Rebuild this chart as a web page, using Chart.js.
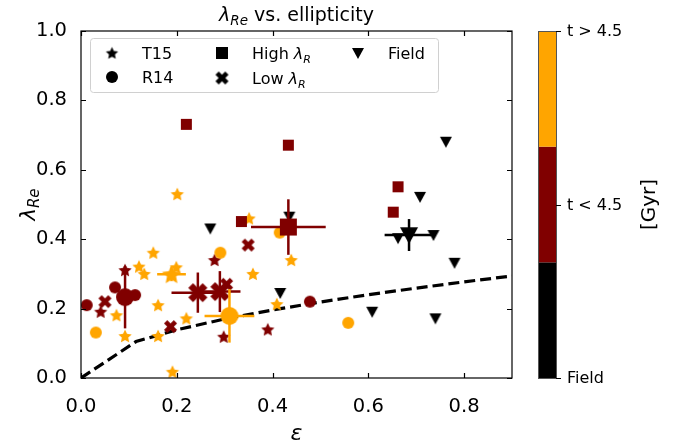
<!DOCTYPE html>
<html lang="en">
<head>
<meta charset="UTF-8">
<title>lambda_Re vs. ellipticity</title>
<script src="https://cdn.jsdelivr.net/npm/chart.js@4.4.1/dist/chart.umd.min.js"></script>
<style>
  html, body { margin: 0; padding: 0; background: #fff; }
</style>
</head>
<body>
<canvas id="myChart" width="679" height="447"></canvas>
<script>
// ---- data ----
// T15 galaxies (stars)
const t15OldX = [0.201, 0.151, 0.121, 0.132, 0.199, 0.161, 0.074, 0.092, 0.161, 0.191, 0.220, 0.359, 0.351, 0.439, 0.409];
const t15OldY = [0.530, 0.361, 0.321, 0.300, 0.319, 0.210, 0.181, 0.121, 0.121, 0.018, 0.172, 0.300, 0.460, 0.340, 0.213];
const t15YoungX = [0.092, 0.041, 0.279, 0.298, 0.390];
const t15YoungY = [0.311, 0.191, 0.340, 0.119, 0.140];
// R14 galaxies (circles)
const r14OldX = [0.031, 0.291, 0.415, 0.558];
const r14OldY = [0.131, 0.361, 0.419, 0.159];
const r14YoungX = [0.012, 0.071, 0.113, 0.478];
const r14YoungY = [0.210, 0.261, 0.239, 0.220];
// high / low lambda_R (young)
const highX = [0.220, 0.433, 0.662, 0.652, 0.335];
const highY = [0.731, 0.671, 0.551, 0.478, 0.451];
const lowX = [0.050, 0.349, 0.187, 0.304];
const lowY = [0.220, 0.383, 0.148, 0.270];
// field galaxies
const fieldX = [0.270, 0.435, 0.416, 0.762, 0.708, 0.662, 0.736, 0.780, 0.608, 0.740];
const fieldY = [0.431, 0.465, 0.245, 0.681, 0.522, 0.403, 0.412, 0.332, 0.191, 0.172];
// group means with error bars
const meanNames = ['R14 young', 'T15 old', 'Low young', 'T15 young', 'R14 old', 'High young', 'Field'];
const meanX = [0.092, 0.189, 0.244, 0.290, 0.310, 0.433, 0.685];
const meanY = [0.233, 0.299, 0.246, 0.249, 0.179, 0.435, 0.412];
const meanXerr = [0.000, 0.030, 0.055, 0.043, 0.052, 0.078, 0.051];
const meanYerr = [0.090, 0.020, 0.058, 0.059, 0.077, 0.080, 0.046];
// dashed curve
const curveX = [0, 0.115, 0.2, 0.3, 0.4, 0.5, 0.6, 0.7, 0.8, 0.9];
const curveY = [0, 0.105, 0.139, 0.170, 0.196, 0.219, 0.240, 0.259, 0.277, 0.294];
// tick labels
const xTickVals = [0, 0.2, 0.4, 0.6, 0.8];
const yTickVals = [0, 0.2, 0.4, 0.6, 0.8, 1.0];
const cbarLabels = ['Field', 't < 4.5', 't > 4.5'];

const ORANGE = '#ffa500', DRED = '#800000', BLACK = '#000000';
const FONT = 'DejaVu Sans';

function makeMarker(shape, r, color) {
  const c = document.createElement('canvas');
  const s = Math.ceil(2 * r + 2);
  c.width = s; c.height = s;
  const g = c.getContext('2d');
  g.translate(s / 2, s / 2);
  g.fillStyle = color;
  g.beginPath();
  if (shape === 'star') {
    for (let i = 0; i < 10; i++) {
      const rr = i % 2 ? r * 0.48 : r;
      const a = -Math.PI / 2 + i * Math.PI / 5;
      g.lineTo(rr * Math.cos(a), rr * Math.sin(a) + r * 0.08);
    }
  } else if (shape === 'square') {
    g.rect(-r, -r, 2 * r, 2 * r);
  } else if (shape === 'tri') {
    g.moveTo(-r, -r * 0.85); g.lineTo(r, -r * 0.85); g.lineTo(0, r);
  } else if (shape === 'x') {
    const pts = [[-1,-3],[1,-3],[1,-1],[3,-1],[3,1],[1,1],[1,3],[-1,3],[-1,1],[-3,1],[-3,-1],[-1,-1]];
    const k = r / 2.8;
    g.rotate(Math.PI / 4);
    pts.forEach(p => g.lineTo(p[0] * k, p[1] * k));
  } else if (shape === 'circle') {
    g.arc(0, 0, r, 0, Math.PI * 2);
  }
  g.closePath();
  g.fill();
  return c;
}

const pts = (xs, ys) => xs.map((x, i) => ({ x: x, y: ys[i] }));

function scatterSet(label, xs, ys, shape, r, color, order) {
  return {
    type: 'scatter', label: label, data: pts(xs, ys),
    pointStyle: makeMarker(shape, r, color), pointRadius: r,
    order: order
  };
}

const meanStyle = [
  ['circle', 9, DRED], ['star', 10, ORANGE], ['x', 9.5, DRED], ['x', 9.5, DRED],
  ['circle', 9, ORANGE], ['square', 8.5, DRED], ['tri', 9, BLACK]
];

const datasets = [];
datasets.push({
  type: 'line', label: 'curve', data: pts(curveX, curveY),
  borderColor: BLACK, borderWidth: 3.2, borderDash: [11, 5],
  pointRadius: 0, fill: false, tension: 0, order: 100
});
datasets.push(scatterSet('T15 old', t15OldX, t15OldY, 'star', 7, ORANGE, 50));
datasets.push(scatterSet('T15 young', t15YoungX, t15YoungY, 'star', 7, DRED, 49));
datasets.push(scatterSet('R14 old', r14OldX, r14OldY, 'circle', 6, ORANGE, 48));
datasets.push(scatterSet('R14 young', r14YoungX, r14YoungY, 'circle', 6, DRED, 47));
datasets.push(scatterSet('Field', fieldX, fieldY, 'tri', 6, BLACK, 46));
datasets.push(scatterSet('High', highX, highY, 'square', 5.5, DRED, 45));
datasets.push(scatterSet('Low', lowX, lowY, 'x', 6.5, DRED, 44));

meanNames.forEach((n, i) => {
  const st = meanStyle[i];
  const ord = 20 - 2 * i;
  if (meanXerr[i] > 0) {
    datasets.push({ type: 'line', label: n + ' xerr',
      data: [{ x: meanX[i] - meanXerr[i], y: meanY[i] }, { x: meanX[i] + meanXerr[i], y: meanY[i] }],
      borderColor: st[2], borderWidth: 2.5, pointRadius: 0, order: ord + 1 });
  }
  if (meanYerr[i] > 0) {
    datasets.push({ type: 'line', label: n + ' yerr',
      data: [{ x: meanX[i], y: meanY[i] - meanYerr[i] }, { x: meanX[i], y: meanY[i] + meanYerr[i] }],
      borderColor: st[2], borderWidth: 2.5, pointRadius: 0, order: ord + 1 });
  }
  datasets.push(scatterSet(n, [meanX[i]], [meanY[i]], st[0], st[1], st[2], ord));
});

function drawParts(ctx, parts, x, y, align) {
  let w = 0;
  parts.forEach(p => { ctx.font = (p.it ? 'italic ' : '') + p.size + 'px "' + FONT + '"'; w += ctx.measureText(p.t).width; });
  let cx = align === 'center' ? x - w / 2 : (align === 'right' ? x - w : x);
  ctx.textAlign = 'left';
  ctx.textBaseline = 'alphabetic';
  parts.forEach(p => {
    ctx.font = (p.it ? 'italic ' : '') + p.size + 'px "' + FONT + '"';
    ctx.fillText(p.t, cx, y + (p.dy || 0));
    cx += ctx.measureText(p.t).width;
  });
}

const decor = {
  id: 'decor',
  afterDraw(chart) {
    const { ctx, chartArea: a, scales: { x, y } } = chart;
    ctx.save();
    ctx.strokeStyle = '#000';
    ctx.lineWidth = 1.2;
    ctx.strokeRect(a.left, a.top, a.right - a.left, a.bottom - a.top);
    ctx.beginPath();
    xTickVals.forEach(v => {
      const px = Math.round(x.getPixelForValue(v)) + 0.5;
      ctx.moveTo(px, a.bottom); ctx.lineTo(px, a.bottom - 5);
      ctx.moveTo(px, a.top); ctx.lineTo(px, a.top + 5);
    });
    yTickVals.forEach(v => {
      const py = Math.round(y.getPixelForValue(v)) + 0.5;
      ctx.moveTo(a.left, py); ctx.lineTo(a.left + 5, py);
      ctx.moveTo(a.right, py); ctx.lineTo(a.right - 5, py);
    });
    ctx.stroke();

    // title and axis titles
    ctx.fillStyle = '#000';
    const cx = (a.left + a.right) / 2;
    drawParts(ctx, [{ t: 'λ', size: 19, it: true }, { t: 'Re', size: 13.5, it: true, dy: 4 }, { t: ' vs. ellipticity', size: 19 }], cx, 21, 'center');
    drawParts(ctx, [{ t: 'ε', size: 22, it: true }], cx, 440, 'center');
    ctx.save();
    ctx.translate(35, (a.top + a.bottom) / 2);
    ctx.rotate(-Math.PI / 2);
    drawParts(ctx, [{ t: 'λ', size: 21, it: true }, { t: 'Re', size: 15, it: true, dy: 4 }], 0, 0, 'center');
    ctx.restore();

    // legend
    const lx = 90, ly = 38, lw = 348, lh = 54;
    ctx.fillStyle = 'rgba(255,255,255,0.8)';
    ctx.strokeStyle = '#d0d0d0';
    ctx.lineWidth = 1;
    ctx.beginPath();
    ctx.roundRect(lx + 0.5, ly + 0.5, lw, lh, 3);
    ctx.fill(); ctx.stroke();
    const items = [
      ['star', 6.5, 112, 53, [{ t: 'T15', size: 16 }]],
      ['circle', 6, 112, 77, [{ t: 'R14', size: 16 }]],
      ['square', 6, 222, 53, [{ t: 'High ', size: 16 }, { t: 'λ', size: 16, it: true }, { t: 'R', size: 11, it: true, dy: 4 }]],
      ['x', 6.5, 222, 78, [{ t: 'Low ', size: 16 }, { t: 'λ', size: 16, it: true }, { t: 'R', size: 11, it: true, dy: 4 }]],
      ['tri', 6, 358, 53, [{ t: 'Field', size: 16 }]]
    ];
    items.forEach(it => {
      const m = makeMarker(it[0], it[1], BLACK);
      ctx.drawImage(m, it[2] - m.width / 2, it[3] - m.height / 2);
      ctx.fillStyle = '#000';
      drawParts(ctx, it[4], it[2] + 30, it[3] + 6, 'left');
    });

    // colorbar
    const bx = 538, bw = 18, top = a.top, bot = a.bottom;
    const seg = (bot - top) / 3;
    [BLACK, DRED, ORANGE].forEach((c, i) => {
      ctx.fillStyle = c;
      ctx.fillRect(bx, bot - seg * (i + 1), bw, seg);
    });
    ctx.strokeStyle = '#555';
    ctx.lineWidth = 1;
    ctx.strokeRect(bx + 0.5, top + 0.5, bw, bot - top);
    ctx.fillStyle = '#000';
    ctx.strokeStyle = '#000';
    ctx.font = '16px "' + FONT + '"';
    ctx.textBaseline = 'middle';
    ctx.textAlign = 'left';
    cbarLabels.forEach((t, i) => {
      const py = Math.round(bot - i * (bot - top) / 2) + 0.5;
      ctx.beginPath(); ctx.moveTo(bx + bw, py); ctx.lineTo(bx + bw + 5, py); ctx.stroke();
      ctx.fillText(t, bx + bw + 11, py);
    });
    ctx.save();
    ctx.translate(650, (top + bot) / 2);
    ctx.rotate(-Math.PI / 2);
    ctx.font = '20px "' + FONT + '"';
    ctx.textAlign = 'center';
    ctx.textBaseline = 'middle';
    ctx.fillText('[Gyr]', 0, 0);
    ctx.restore();
    ctx.restore();
  }
};

const tickFont = { family: FONT, size: 19.5 };
new Chart(document.getElementById('myChart').getContext('2d'), {
  data: { datasets: datasets },
  options: {
    responsive: false,
    animation: false,
    events: [],
    layout: { padding: { left: 0, right: 167, top: 31, bottom: 0 } },
    plugins: { legend: { display: false }, tooltip: { enabled: false } },
    scales: {
      x: {
        type: 'linear', min: 0, max: 0.9,
        grid: { display: false }, border: { display: false },
        ticks: { stepSize: 0.2, includeBounds: false, color: '#000', font: tickFont, padding: 9, maxRotation: 0,
          callback: v => v.toFixed(1) },
        afterFit(s) { s.height = 69; }
      },
      y: {
        type: 'linear', min: 0, max: 1.0,
        grid: { display: false }, border: { display: false },
        ticks: { stepSize: 0.2, color: '#000', font: tickFont, padding: 6,
          callback: v => v.toFixed(1) },
        afterFit(s) { s.width = 81; }
      }
    }
  },
  plugins: [decor]
});
</script>
</body>
</html>
